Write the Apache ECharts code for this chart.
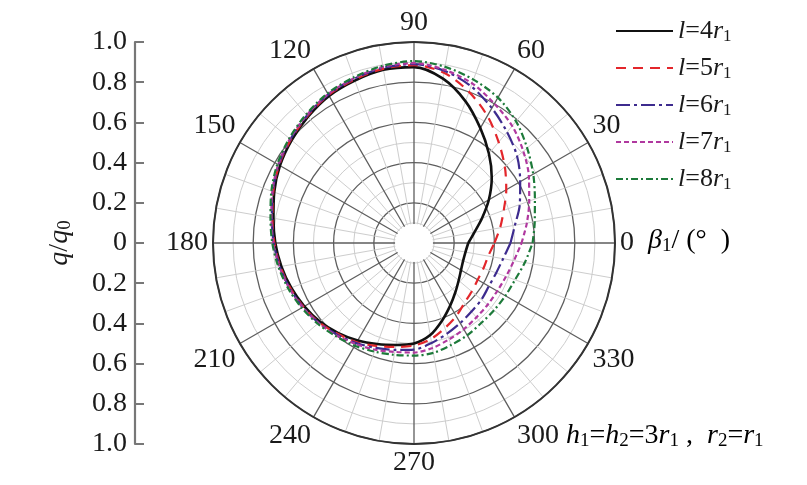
<!DOCTYPE html>
<html>
<head>
<meta charset="utf-8">
<script src="https://cdn.jsdelivr.net/npm/echarts@6/dist/echarts.min.js"></script>
<style>html,body{margin:0;padding:0;background:#fff;}#c{width:807px;height:485px;}</style>
</head>
<body>
<div id="c"></div>
<script>
// angles in degrees (β1)
const angles = [0,10,20,30,40,50,60,70,80,90,100,110,120,130,140,150,160,170,180,190,200,210,220,230,240,250,260,270,280,290,300,310,320,330,340,350,360];
const lValues = [4,5,6,7,8];
const r_l4 = [0.27,0.305,0.36,0.43,0.505,0.58,0.66,0.75,0.83,0.875,0.875,0.86,0.845,0.82,0.795,0.77,0.74,0.71,0.69,0.67,0.65,0.63,0.61,0.585,0.56,0.535,0.515,0.50,0.465,0.41,0.36,0.32,0.29,0.27,0.26,0.26,0.27];
const r_l5 = [0.40,0.435,0.475,0.53,0.59,0.655,0.73,0.80,0.86,0.885,0.88,0.865,0.85,0.825,0.80,0.775,0.745,0.715,0.695,0.675,0.655,0.635,0.615,0.59,0.57,0.545,0.525,0.51,0.485,0.45,0.42,0.39,0.375,0.366,0.368,0.375,0.40];
const r_l6 = [0.48,0.51,0.56,0.61,0.67,0.72,0.775,0.83,0.87,0.89,0.885,0.87,0.853,0.828,0.803,0.778,0.748,0.718,0.698,0.678,0.658,0.638,0.618,0.595,0.575,0.555,0.54,0.53,0.505,0.48,0.46,0.445,0.438,0.43,0.435,0.45,0.48];
const r_l7 = [0.535,0.57,0.61,0.66,0.71,0.76,0.80,0.845,0.875,0.895,0.89,0.872,0.855,0.83,0.806,0.78,0.75,0.72,0.70,0.68,0.66,0.64,0.62,0.60,0.58,0.565,0.55,0.545,0.53,0.51,0.495,0.483,0.478,0.478,0.487,0.505,0.535];
const r_l8 = [0.59,0.61,0.64,0.685,0.735,0.79,0.835,0.865,0.89,0.905,0.895,0.877,0.86,0.835,0.81,0.785,0.755,0.725,0.705,0.685,0.665,0.645,0.625,0.605,0.59,0.575,0.565,0.56,0.555,0.54,0.53,0.52,0.52,0.525,0.535,0.56,0.59];
const leftTicks = [-1,-0.8,-0.6,-0.4,-0.2,0,0.2,0.4,0.6,0.8,1];

const seriesR = [r_l4, r_l5, r_l6, r_l7, r_l8];
const colors = ['#111111', '#e3262b', '#3d2b8e', '#b0389f', '#1d7a3a'];
const dashes = ['solid', [10,7], [14,4,3,4], [5,3], [7,3,2,3]];
const widths = [2.6, 2.2, 2.2, 2.2, 2.2];
const SERIF = '"Liberation Serif", "DejaVu Serif", serif';

const chart = echarts.init(document.getElementById('c'), null, {renderer: 'canvas'});
const series = lValues.map((v, i) => ({
  name: 'l=' + v + 'r1',
  type: 'line',
  coordinateSystem: 'polar',
  data: angles.map((a, k) => [seriesR[i][k], a]),
  smooth: 0.3,
  symbol: 'none',
  z: 10,
  lineStyle: {color: colors[i], width: widths[i], type: dashes[i]},
  itemStyle: {color: colors[i]}
}));

function rich(size, sub) {
  return {
    i: {fontFamily: SERIF, fontStyle: 'italic', fontSize: size, lineHeight: size + 2, color: '#1a1a1a'},
    n: {fontFamily: SERIF, fontSize: size, lineHeight: size + 2, color: '#1a1a1a'},
    s: {fontFamily: SERIF, fontSize: sub, lineHeight: sub, verticalAlign: 'bottom', color: '#1a1a1a'}
  };
}

chart.setOption({
  backgroundColor: '#fff',
  animation: false,
  polar: {center: [414, 243], radius: [0, 201]},
  angleAxis: {
    type: 'value', min: 0, max: 360, interval: 30, startAngle: 0, clockwise: false,
    axisLine: {show: true, lineStyle: {color: '#333', width: 2}},
    axisTick: {show: false},
    axisLabel: {margin: 5, fontFamily: SERIF, fontSize: 28, color: '#1a1a1a',
      formatter: v => v === 360 ? '' : String(v)},
    splitLine: {show: true, lineStyle: {color: '#5e5e5e', width: 1.3}},
    minorTick: {show: false, splitNumber: 3},
    minorSplitLine: {show: true, lineStyle: {color: '#cdcdcd', width: 1}}
  },
  radiusAxis: {
    type: 'value', min: 0, max: 1, interval: 0.2,
    axisLine: {show: false}, axisTick: {show: false}, axisLabel: {show: false},
    splitLine: {show: true, lineStyle: {color: '#5e5e5e', width: 1.3}},
    minorTick: {show: false, splitNumber: 2},
    minorSplitLine: {show: true, lineStyle: {color: '#cdcdcd', width: 1}}
  },
  grid: {left: 135, top: 42, width: 5, height: 402},
  xAxis: {type: 'value', show: false, min: 0, max: 1},
  yAxis: {
    type: 'value', min: -1, max: 1, interval: 0.2,
    name: '{i|q}{n|/}{i|q}{s|0}', nameLocation: 'middle', nameGap: 60, nameRotate: 90,
    nameTextStyle: {rich: rich(28, 19)},
    axisLine: {show: true, lineStyle: {color: '#777', width: 2.2}},
    axisTick: {show: true, inside: true, length: 9, lineStyle: {color: '#777', width: 2}},
    axisLabel: {margin: 8, fontFamily: SERIF, fontSize: 28, color: '#1a1a1a',
      formatter: v => Math.abs(v) < 1e-9 ? '0' : Math.abs(v).toFixed(1)},
    splitLine: {show: false}
  },
  legend: {
    orient: 'vertical', left: 610, top: 12,
    itemWidth: 57, itemHeight: 14, itemGap: 9,
    itemStyle: {opacity: 0},
    data: series.map(s => s.name),
    formatter: name => {
      const v = name.match(/=(\d+)/)[1];
      return '{i|l}{n|=' + v + '}{i|r}{s|1}';
    },
    textStyle: {rich: rich(26, 17), lineHeight: 28}
  },
  graphic: [
    {type: 'circle', shape: {cx: 414, cy: 243, r: 19}, style: {fill: '#fff'}, z: 5, silent: true},
    {type: 'text', left: 648, top: 227, z: 20,
      style: {text: '{i|β}{s|1}{n|/ (°  )}', rich: rich(28, 19)}},
    {type: 'text', left: 566, top: 422, z: 20,
      style: {text: '{i|h}{s|1}{n|=}{i|h}{s|2}{n|=3}{i|r}{s|1}{n| ,  }{i|r}{s|2}{n|=}{i|r}{s|1}', rich: rich(28, 19)}}
  ],
  series: series
});
</script>
</body>
</html>
